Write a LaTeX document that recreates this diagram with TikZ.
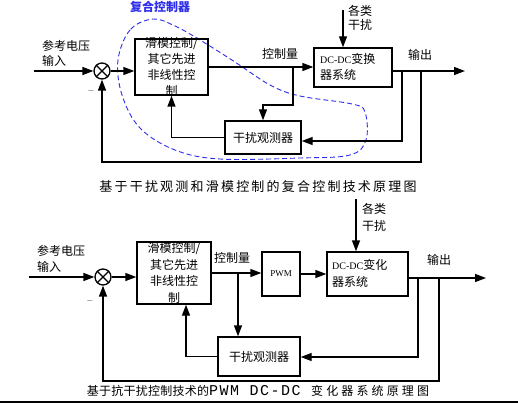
\documentclass[tikz,border=0pt]{standalone}
\usepackage{fontspec}
\setmainfont{Liberation Serif}
\newfontfamily\cjk{Noto Sans CJK SC}
\newfontfamily\cjkcap[LetterSpace=17]{Noto Sans CJK SC}
\newfontfamily\cjkcapb[LetterSpace=2]{Noto Sans CJK SC}
\newfontfamily\cjkcapc[LetterSpace=26]{Noto Sans CJK SC}
\newfontfamily\capmono[LetterSpace=10]{Liberation Mono}
\usetikzlibrary{arrows.meta}
\definecolor{ctrlblue}{RGB}{45,45,235}
\tikzset{
  ln/.style={line width=1.4pt},
  arr/.style={line width=1.4pt, -{Triangle[length=11pt,width=8pt]}},
  box/.style={draw, line width=1.4pt, inner sep=0pt},
  boxtxt/.style={inner sep=0pt, align=center, font=\cjk\fontsize{12}{16}\selectfont},
  lbl/.style={inner sep=0pt, align=left, font=\cjk\fontsize{12}{15}\selectfont},
  sumnode/.style={draw, circle, minimum size=16pt, inner sep=0pt, line width=1.3pt},
  minus/.style={inner sep=0pt, font=\fontsize{11}{11}\selectfont, black!60},
}
\begin{document}
\begin{tikzpicture}[x=1pt,y=-1pt]
\useasboundingbox (0,0) rectangle (518,403);

% ================= top diagram =================
\node[font=\cjk\bfseries\fontsize{12}{14}\selectfont, text=ctrlblue, inner sep=0pt] (hl) at (160,7) {复合控制器};
\draw[ctrlblue, line width=0.9pt, dash pattern=on 5pt off 3pt]
  plot[smooth cycle, tension=0.6] coordinates {(153,19) (130,30) (118,60) (122,95) (140,128) (175,150) (220,159) (300,158) (350,155) (366,140) (365,112) (352,104) (300,96) (270,85) (235,62) (200,40) (175,26)};

\node[sumnode] (s1) at (102,71) {};
\draw[line width=1.1pt] (s1.north west) -- (s1.south east) (s1.north east) -- (s1.south west);
\coordinate (in1) at (34,71);
\draw[arr] (in1) -- (s1.west);
\node[lbl, anchor=north west] (in1l) at (42,40) {参考电压\\输入};
\node[minus] (m1) at (91,93) {−};

\node[box, minimum width=73pt, minimum height=56pt] (c1) at (171.5,67) {};
\node[boxtxt] (c1t) at (c1.center) {滑模控制/\\其它先进\\非线性控\\制};
\draw[arr] (s1.east) -- (s1.east -| c1.west);

\node[box, minimum width=78pt, minimum height=39pt] (d1) at (353,67.5) {};
\node[boxtxt, anchor=west, align=left] (d1t) at (320,67) {{\rmfamily\fontsize{10}{16}\selectfont DC-DC}变换\\器系统};
\draw[arr] (c1.east) -- (c1.east -| d1.west);
\node[lbl] (cl1) at (280,54) {控制量};

\node[box, minimum width=76pt, minimum height=33pt, font=\cjk\fontsize{12}{14}\selectfont] (o1) at (263,137.5) {干扰观测器};
\coordinate (b1) at (293,67);
\draw[arr] (b1) -- ++(0,38) -| (o1.north);

\coordinate (dist1) at (343,10);
\draw[arr] (dist1) -- (dist1 |- d1.north);
\node[lbl, anchor=north west, font=\cjk\fontsize{12}{14}\selectfont] (dl1) at (348,5) {各类\\干扰};

\coordinate (out1) at (465,71);
\draw[arr] (d1.east |- out1) -- (out1);
\node[lbl] (ol1) at (420,55) {输出};

\coordinate (b2) at (402,71);
\coordinate (b2f) at (402,141);
\draw[arr] (b2) -- (b2f) -- (b2f -| o1.east);

\coordinate (b3) at (421,71);
\coordinate (b3f) at (421,162);
\draw[arr] (b3) -- (b3f) -| (s1.south);

\draw[arr] (o1.west) -| (c1.south);

\node[font=\cjkcap\fontsize{13}{15}\selectfont, inner sep=0pt] (cap1) at (258,187) {基于干扰观测和滑模控制的复合控制技术原理图};

% ================= bottom diagram =================
\node[sumnode] (s2) at (103,277) {};
\draw[line width=1.1pt] (s2.north west) -- (s2.south east) (s2.north east) -- (s2.south west);
\coordinate (in2) at (29,277);
\draw[arr] (in2) -- (s2.west);
\node[lbl, anchor=north west, font=\cjk\fontsize{12}{16}\selectfont] (in2l) at (37,245) {参考电压\\输入};
\node[minus] (m2) at (90,303) {−};

\node[box, minimum width=74pt, minimum height=62pt] (c2) at (174,273) {};
\node[boxtxt, font=\cjk\fontsize{12}{16.5}\selectfont] (c2t) at (c2.center) {滑模控制/\\其它先进\\非线性控\\制};
\draw[arr] (s2.east) -- (s2.east -| c2.west);

\node[box, minimum width=38pt, minimum height=44pt, font=\fontsize{9}{11}\selectfont] (p2) at (281,274) {PWM};
\draw[arr] (c2.east) -- (c2.east -| p2.west);
\node[lbl] (cl2) at (232,258) {控制量};

\node[box, minimum width=81pt, minimum height=44pt] (d2) at (367.5,274) {};
\node[boxtxt, anchor=west, align=left, font=\cjk\fontsize{12}{17}\selectfont] (d2t) at (332,273.5) {{\rmfamily\fontsize{10}{17}\selectfont DC-DC}变化\\器系统};
\draw[arr] (p2.east) -- (p2.east -| d2.west);

\node[box, minimum width=82pt, minimum height=39pt, font=\cjk\fontsize{12}{14}\selectfont] (o2) at (259,356.5) {干扰观测器};
\coordinate (b4) at (238,273);
\draw[arr] (b4) -- (b4 |- o2.north);

\coordinate (dist2) at (356,199);
\draw[arr] (dist2) -- (dist2 |- d2.north);
\node[lbl, anchor=north west, font=\cjk\fontsize{12}{17}\selectfont] (dl2) at (362,203) {各类\\干扰};

\coordinate (out2) at (486,278);
\draw[arr] (d2.east |- out2) -- (out2);
\node[lbl] (ol2) at (439,260) {输出};

\coordinate (b5) at (418,278);
\coordinate (b5f) at (418,357);
\draw[arr] (b5) -- (b5f) -- (b5f -| o2.east);

\coordinate (b6) at (439,278);
\coordinate (b6f) at (439,381);
\draw[arr] (b6) -- (b6f) -| (s2.south);

\coordinate (k2) at (186,300);
\draw[arr] (o2.west) -| (k2 |- c2.south);

\node[inner sep=0pt, font=\fontsize{12}{14}\selectfont] (cap2) at (258,391) {{\cjkcapb 基于抗干扰控制技术的}{\capmono\fontsize{15}{15}\selectfont PWM DC-DC }{\cjkcapc 变化器系统原理图}};

\coordinate (r1) at (0,402);
\coordinate (r2) at (518,402);
\draw[line width=1.5pt] (r1) -- (r2);
\end{tikzpicture}
\end{document}
